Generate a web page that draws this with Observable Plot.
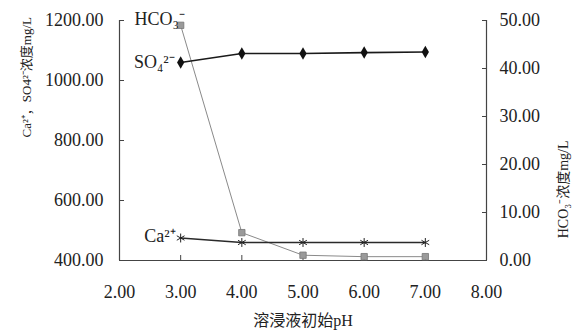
<!DOCTYPE html>
<html><head><meta charset="utf-8">
<script src="https://cdn.jsdelivr.net/npm/d3@7"></script>
<script src="https://cdn.jsdelivr.net/npm/@observablehq/plot@0.6"></script>
<style>
html,body{margin:0;padding:0;background:#fff;}
svg{font-family:"Liberation Serif","Noto Sans CJK SC",serif;}
</style></head>
<body><div id="chart"></div>
<script>
const pH = [3, 4, 5, 6, 7];
const so4 = [1060, 1090, 1090, 1093, 1095];
const ca = [475, 460, 460, 460, 460];
const hco3 = [49, 5.8, 1.1, 0.8, 0.8];
const xTicks = [2, 3, 4, 5, 6, 7, 8];
const leftTicks = [400, 600, 800, 1000, 1200];
const rightTicks = [0, 10, 20, 30, 40, 50];
const seriesLabels = ["HCO₃⁻", "SO₄²⁻", "Ca²⁺"];
const xTitle = "溶浸液初始pH";
const yLeftTitle = "Ca²⁺，SO4²⁻浓度mg/L";
const yRightTitle = "HCO₃⁻浓度mg/L";

// right axis (0–50) mapped onto left scale (400–1200)
const yR = v => 400 + v * 16;

const so4Data = pH.map((x, i) => ({x, y: so4[i]}));
const caData = pH.map((x, i) => ({x, y: ca[i]}));
const hcoData = pH.map((x, i) => ({x, y: yR(hco3[i])}));

const fmt = d => d.toFixed(2);
const font = {fontSize: 18};

const chart = Plot.plot({
  width: 576, height: 336,
  marginLeft: 119, marginRight: 90, marginTop: 20, marginBottom: 76,
  x: {domain: [2, 8]},
  y: {domain: [400, 1200]},
  style: {fontFamily: '"Liberation Serif","Noto Sans CJK SC",serif', color: "#222"},
  marks: [
    Plot.ruleX([2, 8], {stroke: "#444", strokeWidth: 1.2}),
    Plot.ruleY([400], {stroke: "#444", strokeWidth: 1.2}),
    Plot.axisX({ticks: xTicks, tickFormat: fmt, tickSize: -5, tickPadding: 30, label: null, fontSize: 18, stroke: "#444"}),
    Plot.axisY({ticks: leftTicks, tickFormat: fmt, tickSize: -5, tickPadding: 21, label: null, fontSize: 18, stroke: "#444"}),
    Plot.axisY({anchor: "right", ticks: rightTicks.map(yR), tickFormat: v => fmt((v - 400) / 16), tickSize: -5, tickPadding: 18, label: null, fontSize: 18, stroke: "#444"}),
    Plot.line(hcoData, {x: "x", y: "y", stroke: "#8a8a8a", strokeWidth: 1}),
    Plot.line(so4Data, {x: "x", y: "y", stroke: "#1a1a1a", strokeWidth: 1.6}),
    Plot.line(caData, {x: "x", y: "y", stroke: "#2a2a2a", strokeWidth: 1.3}),
    Plot.dot(hcoData, {x: "x", y: "y", symbol: "square", r: 3.6, fill: "#9a9a9a", stroke: "#777", strokeWidth: 0.8}),
    Plot.dot(so4Data, {x: "x", y: "y", symbol: "diamond", r: 3.8, fill: "#111"}),
    Plot.dot(caData, {x: "x", y: "y", symbol: "asterisk", r: 4.2, stroke: "#222", strokeWidth: 1}),
    Plot.text([seriesLabels[0]], {x: pH[0], y: hcoData[0].y, textAnchor: "end", dx: 4, dy: -6, ...font, fill: "#222"}),
    Plot.text([seriesLabels[1]], {x: pH[0], y: so4Data[0].y, textAnchor: "end", dx: -6, ...font, fill: "#222"}),
    Plot.text([seriesLabels[2]], {x: pH[0], y: caData[0].y, textAnchor: "end", dx: -5, dy: -2, ...font, fill: "#222"}),
    Plot.text([xTitle], {frameAnchor: "bottom", dy: 65, fontSize: 16, fill: "#222"}),
    Plot.text([yLeftTitle], {frameAnchor: "left", dx: -93, dy: -3, rotate: -90, fontSize: 13, fill: "#222"}),
    Plot.text([yRightTitle], {frameAnchor: "right", dx: 77, dy: 0, rotate: -90, fontSize: 14, fill: "#222"})
  ]
});
document.getElementById("chart").appendChild(chart);
</script></body></html>
